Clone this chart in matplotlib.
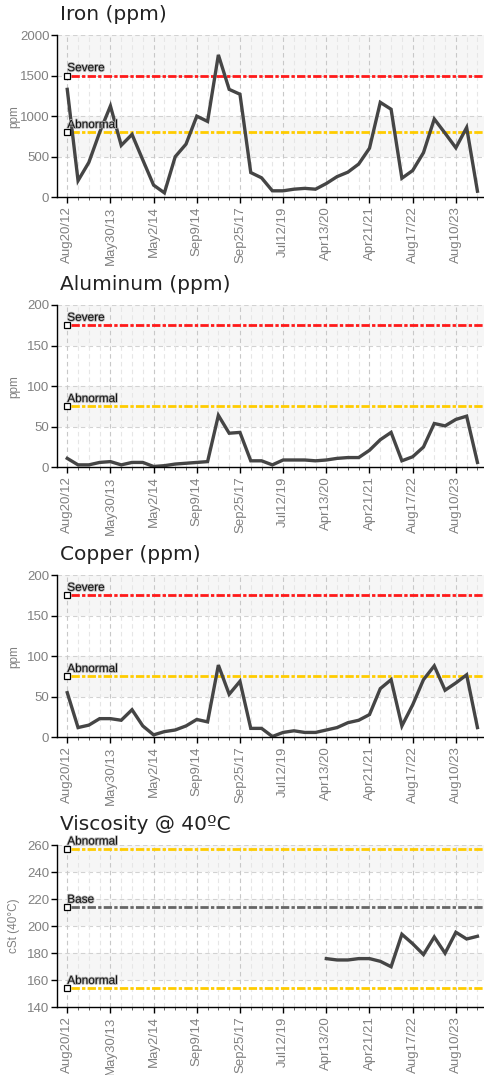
import matplotlib
matplotlib.use("Agg")
import matplotlib.pyplot as plt
import matplotlib.patheffects as pe

# sample dates shown on the x axis (every 4th of 39 samples)
date_labels = ["Aug20/12", "May30/13", "May2/14", "Sep9/14", "Sep25/17",
               "Jul12/19", "Apr13/20", "Apr21/21", "Aug17/22", "Aug10/23"]
n_samples = 39

iron = [1330, 205, 430, 800, 1125, 640, 775, 460, 150, 55, 500, 655, 1000, 935,
        1755, 1330, 1270, 305, 240, 80, 80, 100, 110, 100, 170, 255, 310, 410,
        605, 1170, 1085, 235, 330, 550, 965, 790, 610, 860, 75]
aluminum = [11, 3, 3, 6, 7, 3, 6, 6, 1, 2, 4, 5, 6, 7, 64, 42, 43, 8, 8, 3, 9, 9,
            9, 8, 9, 11, 12, 12, 21, 34, 43, 8, 13, 25, 54, 51, 59, 63, 6]
copper = [55, 12, 15, 23, 23, 21, 34, 14, 3, 7, 9, 14, 22, 19, 89, 53, 69, 11,
          11, 1, 6, 8, 6, 6, 9, 12, 18, 21, 28, 60, 71, 14, 40, 71, 88, 58, 67, 77, 12]
visc_first = 24            # viscosity only measured from Apr13/20 on
viscosity = [176, 175, 175, 176, 176, 174, 170, 194, 187, 179, 192, 180, 195.5, 190.5, 192.5]

# (label, value, colour) alarm limits per panel
iron_limits = [("Severe", 1500, "#ff1a1a"), ("Abnormal", 800, "#ffcc00")]
wear_limits = [("Severe", 175, "#ff1a1a"), ("Abnormal", 75, "#ffcc00")]
visc_limits = [("Abnormal", 257, "#ffcc00"), ("Base", 214, "#666666"), ("Abnormal", 154, "#ffcc00")]

W, H = 485, 1075
fig = plt.figure(figsize=(W / 100, H / 100), dpi=100)
TICK_FONT = ["Liberation Sans", "DejaVu Sans"]


def panel(i, title, x, y, yticks, ylabel, limits):
    top = 35 + 270 * i
    bot = 197.3 + 270 * i
    ax = fig.add_axes([57 / W, 1 - bot / H, 1 - 57 / W, (bot - top) / H])
    fig.text(60 / W, 1 - (19.5 + 270 * i) / H, title, fontsize=14.5,
             color="#222222", family="DejaVu Sans", va="baseline")

    ax.set_xlim(-0.95, 38.7)
    ax.set_ylim(yticks[0], yticks[-1])

    # alternating bands + dashed grid
    for k in range(1, len(yticks) - 1, 2):
        ax.axhspan(yticks[k], yticks[k + 1], color="#f6f6f6", zorder=0, lw=0)
    for t in yticks[1:]:
        ax.axhline(t, color="#d2d2d2", lw=0.8, ls=(0, (4, 3)), zorder=1)
    for s in range(n_samples):
        major = s % 4 == 0
        ax.axvline(s, color="#c8c8c8" if major else "#e6e6e6",
                   lw=0.8, ls=(0, (4, 3)), zorder=1)

    for name, val, col in limits:
        ax.plot([0.35, 38.7], [val, val], color=col, lw=2.0,
                dashes=(3, 0.8, 1.2, 0.8), zorder=3, solid_capstyle="butt")
        ax.plot([0], [val], marker="s", ms=3.8, mfc="white", mec="black",
                mew=0.9, zorder=5, clip_on=False)
        ax.annotate(name, (0, val), xytext=(0, 3.2), textcoords="offset points",
                    fontsize=8.5, color="#111111", family=TICK_FONT, zorder=6,
                    path_effects=[pe.withStroke(linewidth=1.2, foreground="#b0b0b0")])

    ax.plot(x, y, color="#454545", lw=2.4, zorder=4, solid_joinstyle="miter")

    ax.set_yticks(yticks)
    ax.set_yticklabels([str(t) for t in yticks])
    ax.set_xticks(range(0, n_samples, 4))
    ax.set_xticklabels(date_labels, rotation=90)
    ax.set_xticks(range(n_samples), minor=True)
    ax.tick_params(axis="y", length=4, width=1, pad=1.5, labelsize=9.5,
                   labelcolor="#808080", color="black")
    ax.tick_params(axis="x", which="major", length=4, width=1, pad=2.5,
                   labelsize=9.5, labelcolor="#808080", color="black")
    ax.tick_params(axis="x", which="minor", length=2, width=0.7, color="#666666")
    for lab in ax.get_xticklabels() + ax.get_yticklabels():
        lab.set_family(TICK_FONT)
    ax.set_ylabel(ylabel, fontsize=8.5, color="#808080", family=TICK_FONT)
    ax.yaxis.set_label_coords(-0.086, 0.5)

    for side in ("top", "right"):
        ax.spines[side].set_visible(False)
    for side in ("left", "bottom"):
        ax.spines[side].set_linewidth(1.0)
        ax.spines[side].set_zorder(6)
    ax.set_facecolor("white")
    return ax


idx = list(range(n_samples))
panel(0, "Iron (ppm)", idx, iron, list(range(0, 2001, 500)), "ppm", iron_limits)
panel(1, "Aluminum (ppm)", idx, aluminum, list(range(0, 201, 50)), "ppm", wear_limits)
panel(2, "Copper (ppm)", idx, copper, list(range(0, 201, 50)), "ppm", wear_limits)
panel(3, "Viscosity @ 40\u00baC", list(range(visc_first, n_samples)), viscosity,
      list(range(140, 261, 20)), "cSt (40\u00b0C)", visc_limits)

fig.savefig("out.png", dpi=100)
